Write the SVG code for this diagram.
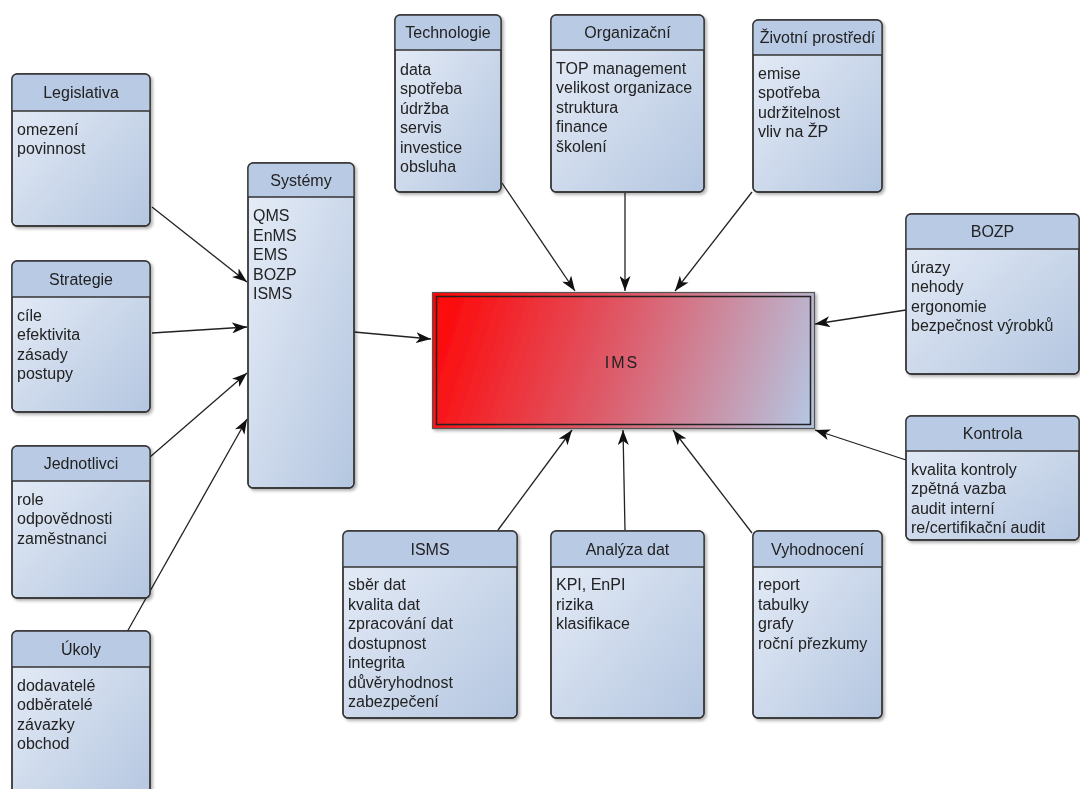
<svg xmlns="http://www.w3.org/2000/svg" width="1080" height="789" viewBox="0 0 1080 789">
  <defs>
    <linearGradient id="body" x1="0" y1="0" x2="1" y2="1">
      <stop offset="0" stop-color="#e8eef8"/>
      <stop offset="1" stop-color="#b4c6e0"/>
    </linearGradient>
    <linearGradient id="ims" gradientUnits="userSpaceOnUse" x1="436" y1="300" x2="812" y2="420">
      <stop offset="0" stop-color="#ff0505"/>
      <stop offset="0.5" stop-color="#dc5f6e"/>
      <stop offset="1" stop-color="#b5c6e2"/>
    </linearGradient>
    <filter id="shadow" x="-10%" y="-10%" width="130%" height="130%">
      <feDropShadow dx="2" dy="2" stdDeviation="1.5" flood-color="#000" flood-opacity="0.3"/>
    </filter>
    <marker id="arrow" viewBox="0 0 15 11" refX="15" refY="5.5" markerWidth="15" markerHeight="11" markerUnits="userSpaceOnUse" orient="auto">
      <path d="M0,0 L15,5.5 L0,11 L4,5.5 Z" fill="#111"/>
    </marker>
  </defs>
  <style>
    .box { fill: url(#body); stroke: #333; stroke-width: 1.3; }
    .frame { fill: none; stroke: #333; stroke-width: 1.3; }
    .hd { fill: #b8cae4; }
    .sep { stroke: #333; stroke-width: 1.3; }
    .t { font-family: "Liberation Sans", Arial, sans-serif; font-size: 16px; fill: #222; }
    .h { font-family: "Liberation Sans", Arial, sans-serif; font-size: 16px; text-anchor: middle; fill: #222; }
    .conn line { stroke: #222; stroke-width: 1.3; marker-end: url(#arrow); }
  </style>
  <rect width="1080" height="789" fill="#fff"/>

  <!-- connectors -->
  <g id="connectors" class="conn">
    <line x1="152" y1="207" x2="247" y2="282"/>
    <line x1="152" y1="333" x2="247" y2="327"/>
    <line x1="150" y1="457" x2="247" y2="373"/>
    <line x1="127" y1="632" x2="247" y2="419"/>
    <line x1="354" y1="332" x2="431" y2="339"/>
    <line x1="502" y1="183" x2="575" y2="291"/>
    <line x1="625" y1="193" x2="625" y2="291"/>
    <line x1="752" y1="192" x2="675" y2="291"/>
    <line x1="906" y1="310" x2="815" y2="324"/>
    <line x1="906" y1="460" x2="815" y2="430"/>
    <line x1="498" y1="530" x2="572" y2="430"/>
    <line x1="625" y1="530" x2="623" y2="430"/>
    <line x1="752" y1="533" x2="673" y2="430"/>
  </g>

  <!-- central node -->
  <g id="ims-node" filter="url(#shadow)">
    <rect x="432.5" y="292.5" width="382" height="136" fill="url(#ims)" stroke="#555" stroke-width="1.2"/>
    <rect x="436.5" y="296.5" width="374" height="128" fill="none" stroke="#222" stroke-width="1.5"/>
    <text class="h" x="622" y="368" letter-spacing="2">IMS</text>
  </g>

  <g id="legislativa" filter="url(#shadow)">
    <rect class="box" x="12" y="74" width="138" height="152" rx="5"/>
    <path class="hd" d="M12,111 V79 Q12,74 17,74 H145 Q150,74 150,79 V111 Z"/>
    <rect class="frame" x="12" y="74" width="138" height="152" rx="5"/>
    <line class="sep" x1="12" y1="111" x2="150" y2="111"/>
    <text class="h" x="81" y="98">Legislativa</text>
    <text class="t"><tspan x="17" y="134.5">omezení</tspan><tspan x="17" y="154">povinnost</tspan></text>
  </g>

  <g id="strategie" filter="url(#shadow)">
    <rect class="box" x="12" y="261" width="138" height="151" rx="5"/>
    <path class="hd" d="M12,297 V266 Q12,261 17,261 H145 Q150,261 150,266 V297 Z"/>
    <rect class="frame" x="12" y="261" width="138" height="151" rx="5"/>
    <line class="sep" x1="12" y1="297" x2="150" y2="297"/>
    <text class="h" x="81" y="284.5">Strategie</text>
    <text class="t"><tspan x="17" y="320.5">cíle</tspan><tspan x="17" y="340">efektivita</tspan><tspan x="17" y="359.5">zásady</tspan><tspan x="17" y="379">postupy</tspan></text>
  </g>

  <g id="jednotlivci" filter="url(#shadow)">
    <rect class="box" x="12" y="446" width="138" height="152" rx="5"/>
    <path class="hd" d="M12,481 V451 Q12,446 17,446 H145 Q150,446 150,451 V481 Z"/>
    <rect class="frame" x="12" y="446" width="138" height="152" rx="5"/>
    <line class="sep" x1="12" y1="481" x2="150" y2="481"/>
    <text class="h" x="81" y="469">Jednotlivci</text>
    <text class="t"><tspan x="17" y="504.5">role</tspan><tspan x="17" y="524">odpovědnosti</tspan><tspan x="17" y="543.5">zaměstnanci</tspan></text>
  </g>

  <g id="ukoly" filter="url(#shadow)">
    <rect class="box" x="12" y="631" width="138" height="175" rx="5"/>
    <path class="hd" d="M12,667 V636 Q12,631 17,631 H145 Q150,631 150,636 V667 Z"/>
    <rect class="frame" x="12" y="631" width="138" height="175" rx="5"/>
    <line class="sep" x1="12" y1="667" x2="150" y2="667"/>
    <text class="h" x="81" y="654.5">Úkoly</text>
    <text class="t"><tspan x="17" y="690.5">dodavatelé</tspan><tspan x="17" y="710">odběratelé</tspan><tspan x="17" y="729.5">závazky</tspan><tspan x="17" y="749">obchod</tspan></text>
  </g>

  <g id="systemy" filter="url(#shadow)">
    <rect class="box" x="248" y="163" width="106" height="325" rx="5"/>
    <path class="hd" d="M248,197 V168 Q248,163 253,163 H349 Q354,163 354,168 V197 Z"/>
    <rect class="frame" x="248" y="163" width="106" height="325" rx="5"/>
    <line class="sep" x1="248" y1="197" x2="354" y2="197"/>
    <text class="h" x="301" y="185.5">Systémy</text>
    <text class="t"><tspan x="253" y="221">QMS</tspan><tspan x="253" y="240.5">EnMS</tspan><tspan x="253" y="260">EMS</tspan><tspan x="253" y="279.5">BOZP</tspan><tspan x="253" y="299">ISMS</tspan></text>
  </g>

  <g id="technologie" filter="url(#shadow)">
    <rect class="box" x="395" y="15" width="106" height="177" rx="5"/>
    <path class="hd" d="M395,50 V20 Q395,15 400,15 H496 Q501,15 501,20 V50 Z"/>
    <rect class="frame" x="395" y="15" width="106" height="177" rx="5"/>
    <line class="sep" x1="395" y1="50" x2="501" y2="50"/>
    <text class="h" x="448" y="38">Technologie</text>
    <text class="t"><tspan x="400" y="74.5">data</tspan><tspan x="400" y="94">spotřeba</tspan><tspan x="400" y="113.5">údržba</tspan><tspan x="400" y="133">servis</tspan><tspan x="400" y="152.5">investice</tspan><tspan x="400" y="172">obsluha</tspan></text>
  </g>

  <g id="organizacni" filter="url(#shadow)">
    <rect class="box" x="551" y="15" width="153" height="177" rx="5"/>
    <path class="hd" d="M551,50 V20 Q551,15 556,15 H699 Q704,15 704,20 V50 Z"/>
    <rect class="frame" x="551" y="15" width="153" height="177" rx="5"/>
    <line class="sep" x1="551" y1="50" x2="704" y2="50"/>
    <text class="h" x="627.5" y="38">Organizační</text>
    <text class="t"><tspan x="556" y="73.5">TOP management</tspan><tspan x="556" y="93">velikost organizace</tspan><tspan x="556" y="112.5">struktura</tspan><tspan x="556" y="132">finance</tspan><tspan x="556" y="151.5">školení</tspan></text>
  </g>

  <g id="zivotni-prostredi" filter="url(#shadow)">
    <rect class="box" x="753" y="20" width="129" height="172" rx="5"/>
    <path class="hd" d="M753,55 V25 Q753,20 758,20 H877 Q882,20 882,25 V55 Z"/>
    <rect class="frame" x="753" y="20" width="129" height="172" rx="5"/>
    <line class="sep" x1="753" y1="55" x2="882" y2="55"/>
    <text class="h" x="817.5" y="43">Životní prostředí</text>
    <text class="t"><tspan x="758" y="78.5">emise</tspan><tspan x="758" y="98">spotřeba</tspan><tspan x="758" y="117.5">udržitelnost</tspan><tspan x="758" y="137">vliv na ŽP</tspan></text>
  </g>

  <g id="bozp" filter="url(#shadow)">
    <rect class="box" x="906" y="214" width="173" height="160" rx="5"/>
    <path class="hd" d="M906,249 V219 Q906,214 911,214 H1074 Q1079,214 1079,219 V249 Z"/>
    <rect class="frame" x="906" y="214" width="173" height="160" rx="5"/>
    <line class="sep" x1="906" y1="249" x2="1079" y2="249"/>
    <text class="h" x="992.5" y="237">BOZP</text>
    <text class="t"><tspan x="911" y="272.5">úrazy</tspan><tspan x="911" y="292">nehody</tspan><tspan x="911" y="311.5">ergonomie</tspan><tspan x="911" y="331">bezpečnost výrobků</tspan></text>
  </g>

  <g id="kontrola" filter="url(#shadow)">
    <rect class="box" x="906" y="416" width="173" height="124" rx="5"/>
    <path class="hd" d="M906,451 V421 Q906,416 911,416 H1074 Q1079,416 1079,421 V451 Z"/>
    <rect class="frame" x="906" y="416" width="173" height="124" rx="5"/>
    <line class="sep" x1="906" y1="451" x2="1079" y2="451"/>
    <text class="h" x="992.5" y="439">Kontrola</text>
    <text class="t"><tspan x="911" y="474.5">kvalita kontroly</tspan><tspan x="911" y="494">zpětná vazba</tspan><tspan x="911" y="513.5">audit interní</tspan><tspan x="911" y="533">re/certifikační audit</tspan></text>
  </g>

  <g id="isms" filter="url(#shadow)">
    <rect class="box" x="343" y="531" width="174" height="187" rx="5"/>
    <path class="hd" d="M343,567 V536 Q343,531 348,531 H512 Q517,531 517,536 V567 Z"/>
    <rect class="frame" x="343" y="531" width="174" height="187" rx="5"/>
    <line class="sep" x1="343" y1="567" x2="517" y2="567"/>
    <text class="h" x="430" y="554.5">ISMS</text>
    <text class="t"><tspan x="348" y="590">sběr dat</tspan><tspan x="348" y="609.5">kvalita dat</tspan><tspan x="348" y="629">zpracování dat</tspan><tspan x="348" y="648.5">dostupnost</tspan><tspan x="348" y="668">integrita</tspan><tspan x="348" y="687.5">důvěryhodnost</tspan><tspan x="348" y="707">zabezpečení</tspan></text>
  </g>

  <g id="analyza-dat" filter="url(#shadow)">
    <rect class="box" x="551" y="531" width="153" height="187" rx="5"/>
    <path class="hd" d="M551,567 V536 Q551,531 556,531 H699 Q704,531 704,536 V567 Z"/>
    <rect class="frame" x="551" y="531" width="153" height="187" rx="5"/>
    <line class="sep" x1="551" y1="567" x2="704" y2="567"/>
    <text class="h" x="627.5" y="554.5">Analýza dat</text>
    <text class="t"><tspan x="556" y="590">KPI, EnPI</tspan><tspan x="556" y="609.5">rizika</tspan><tspan x="556" y="629">klasifikace</tspan></text>
  </g>

  <g id="vyhodnoceni" filter="url(#shadow)">
    <rect class="box" x="753" y="531" width="129" height="187" rx="5"/>
    <path class="hd" d="M753,567 V536 Q753,531 758,531 H877 Q882,531 882,536 V567 Z"/>
    <rect class="frame" x="753" y="531" width="129" height="187" rx="5"/>
    <line class="sep" x1="753" y1="567" x2="882" y2="567"/>
    <text class="h" x="817.5" y="554.5">Vyhodnocení</text>
    <text class="t"><tspan x="758" y="590">report</tspan><tspan x="758" y="609.5">tabulky</tspan><tspan x="758" y="629">grafy</tspan><tspan x="758" y="648.5">roční přezkumy</tspan></text>
  </g>
</svg>
